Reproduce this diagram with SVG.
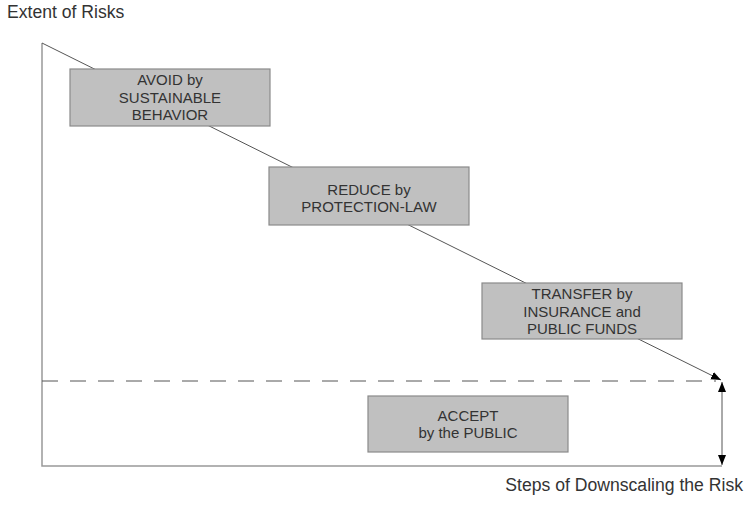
<svg xmlns="http://www.w3.org/2000/svg" width="746" height="507" viewBox="0 0 746 507">
<style>
.box{fill:#c0c0c0;stroke:#8a8a8a;stroke-width:1.2}
.t{font-family:"Liberation Sans",Arial,sans-serif;font-size:15px;fill:#333;text-anchor:middle}
.lbl{font-family:"Liberation Sans",Arial,sans-serif;fill:#333;font-size:17.6px}
.ln{stroke:#555;stroke-width:1;fill:none}
.ax{stroke:#999;stroke-width:1.5;fill:none}
</style>
<defs>
<marker id="ah" viewBox="0 0 10 10" refX="10" refY="5" markerWidth="10" markerHeight="10" markerUnits="userSpaceOnUse" orient="auto-start-reverse">
<path d="M0,1 L10,5 L0,9 Z" fill="#000"/>
</marker>
</defs>
<rect width="746" height="507" fill="#fff"/>
<text class="lbl" x="7" y="18">Extent of Risks</text>
<text class="lbl" x="743" y="491" text-anchor="end">Steps of Downscaling the Risk</text>
<g id="connectors">
<path class="ax" d="M42,43 L42,466 L722,466"/>
<path class="ln" d="M42,43 L721,380" marker-end="url(#ah)"/>
<path d="M42,381 L716,381" stroke="#555" stroke-width="1" stroke-dasharray="16,12" fill="none"/>
<path class="ln" d="M722,382 L722,465" marker-start="url(#ah)" marker-end="url(#ah)"/>
</g>
<g id="avoid">
<rect class="box" x="70" y="69" width="200" height="57"/>
<text class="t" x="170" y="85">AVOID by</text>
<text class="t" x="170" y="102.5">SUSTAINABLE</text>
<text class="t" x="170" y="120">BEHAVIOR</text>
</g>
<g id="reduce">
<rect class="box" x="269" y="167" width="200" height="58"/>
<text class="t" x="369" y="195">REDUCE by</text>
<text class="t" x="369" y="212">PROTECTION-LAW</text>
</g>
<g id="transfer">
<rect class="box" x="482" y="283" width="200" height="56"/>
<text class="t" x="582" y="299">TRANSFER by</text>
<text class="t" x="582" y="316.5">INSURANCE and</text>
<text class="t" x="582" y="334">PUBLIC FUNDS</text>
</g>
<g id="accept">
<rect class="box" x="368" y="396" width="200" height="56"/>
<text class="t" x="468" y="421">ACCEPT</text>
<text class="t" x="468" y="438">by the PUBLIC</text>
</g>
</svg>
